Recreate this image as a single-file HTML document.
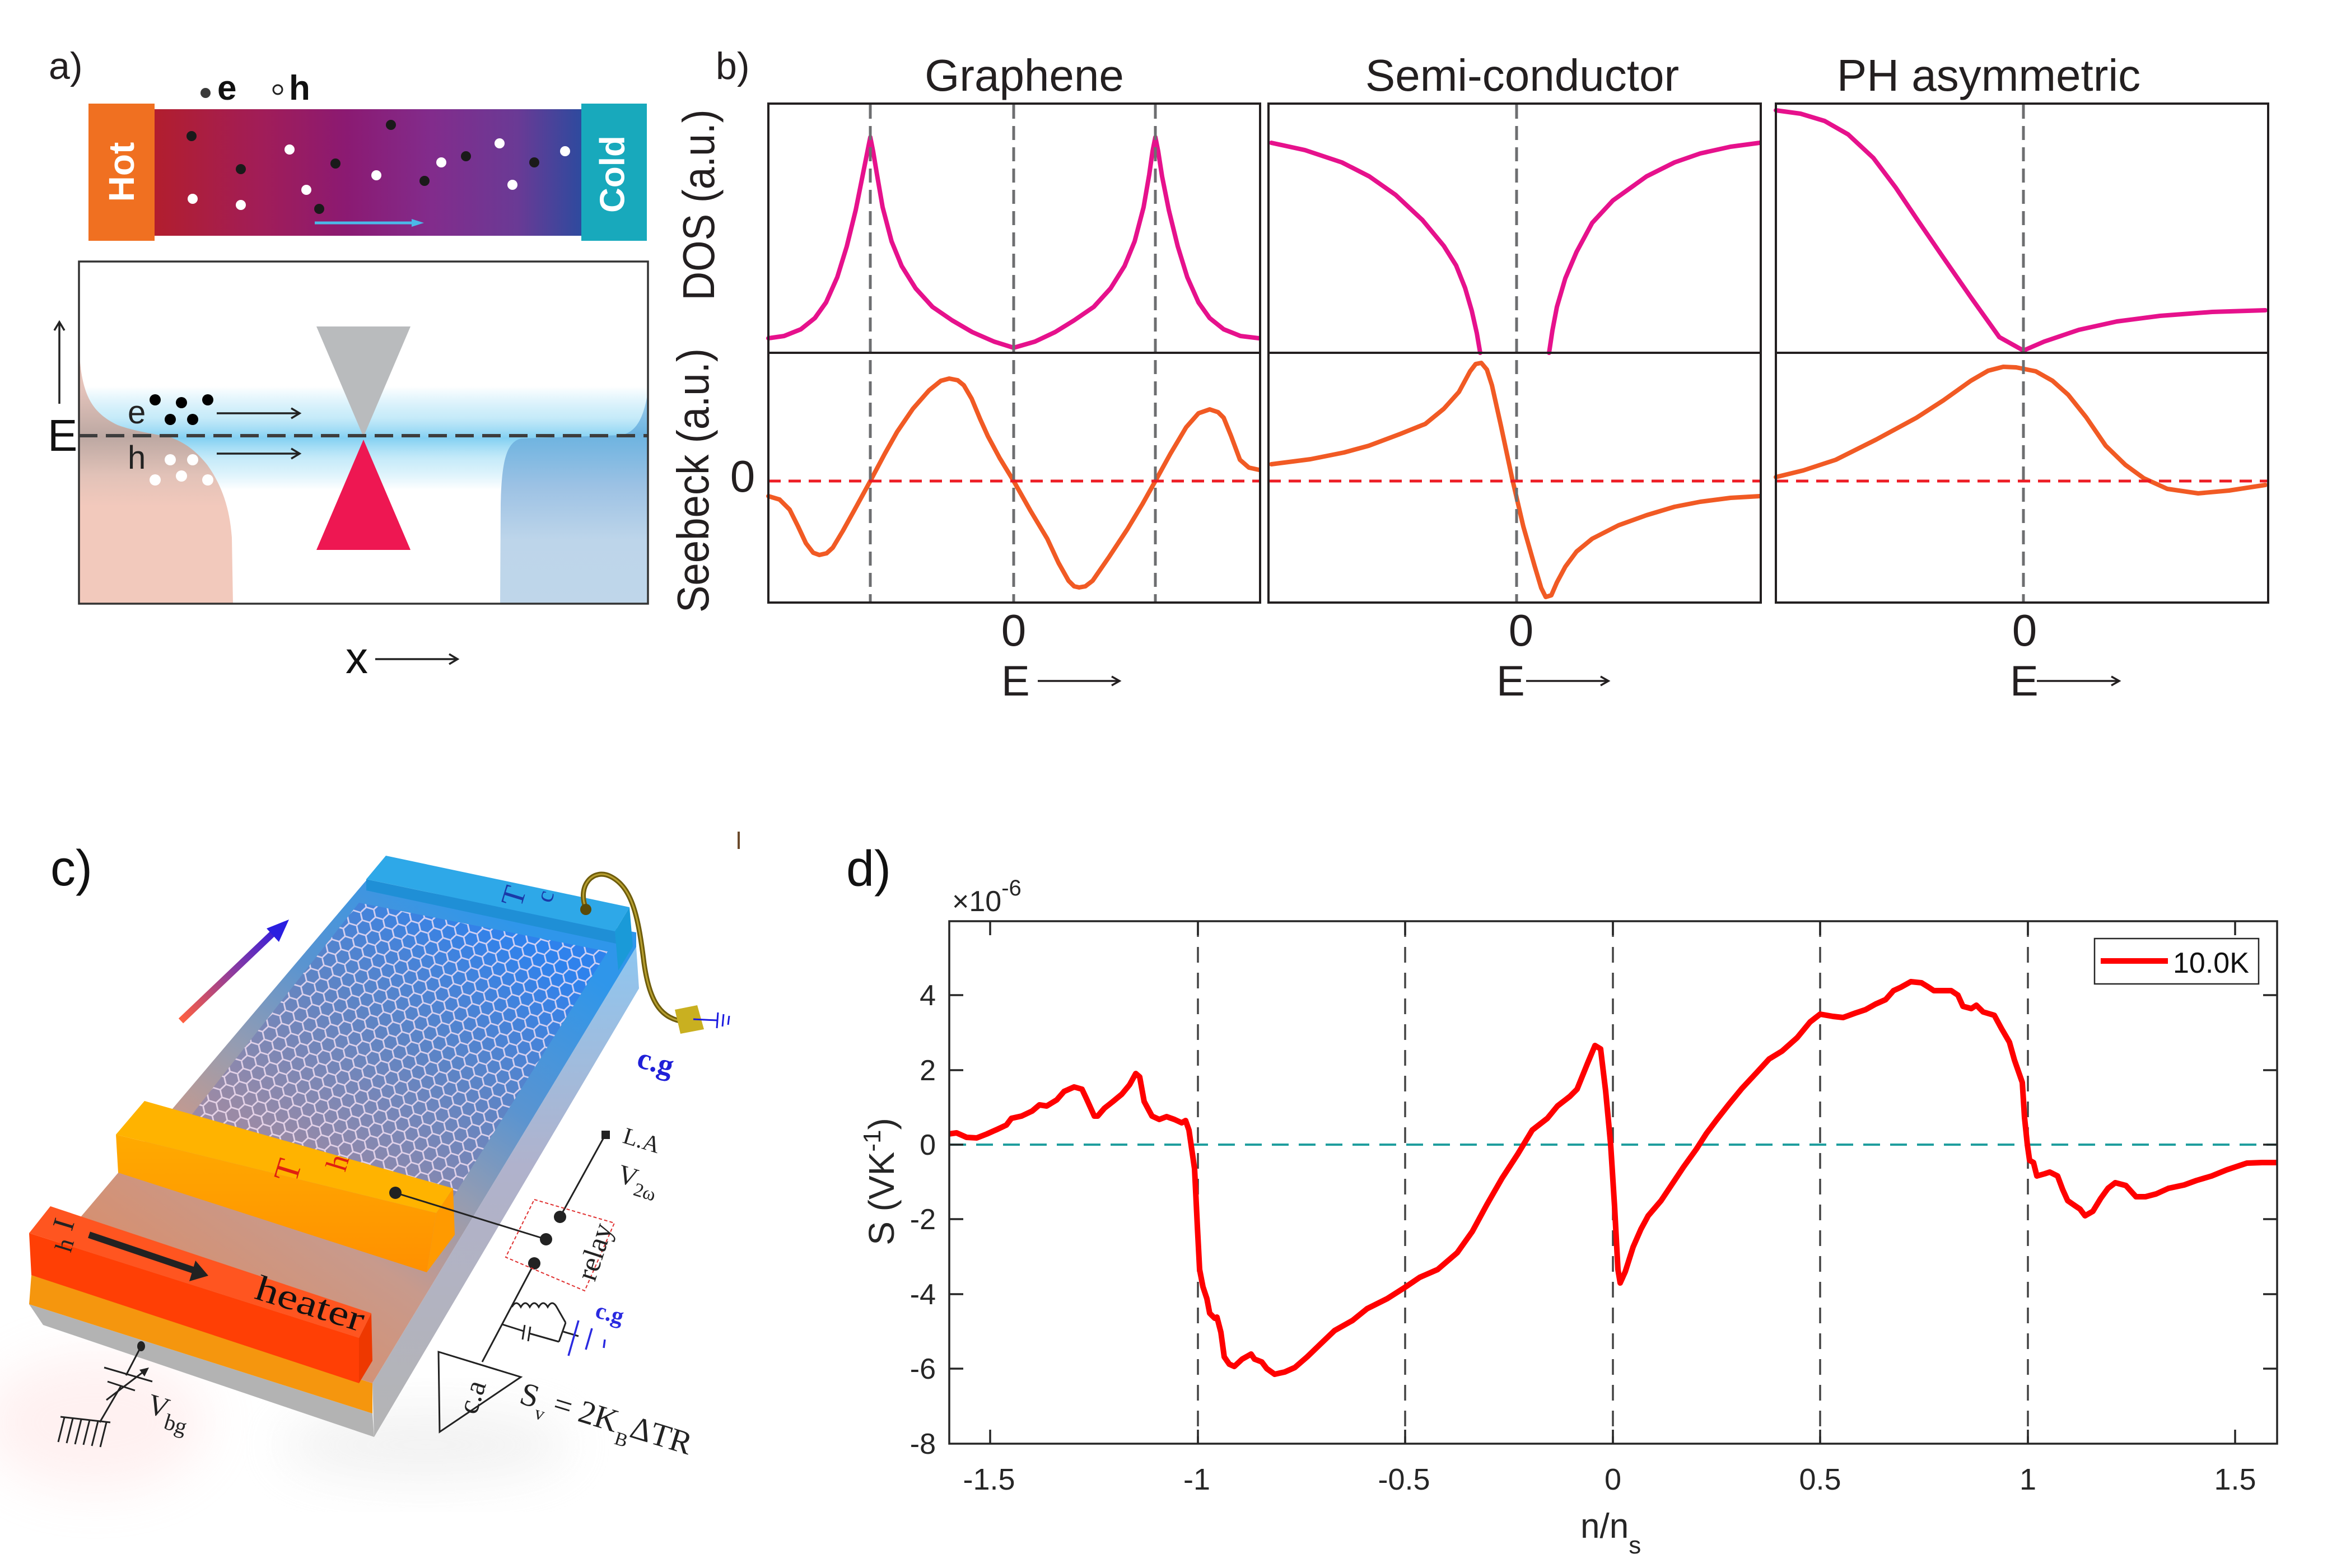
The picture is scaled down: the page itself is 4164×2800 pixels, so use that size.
<!DOCTYPE html>
<html><head><meta charset="utf-8"><style>html,body{margin:0;padding:0;background:#fff}svg{display:block}</style></head>
<body>
<svg xmlns="http://www.w3.org/2000/svg" width="4164" height="2800" viewBox="0 0 4164 2800" font-family="'Liberation Sans', Arial, sans-serif" fill="#231f20">
<defs>
<linearGradient id="barG" x1="0" y1="0" x2="1" y2="0">
 <stop offset="0" stop-color="#b21e2e"/>
 <stop offset="0.25" stop-color="#a11d58"/>
 <stop offset="0.45" stop-color="#8b1a72"/>
 <stop offset="0.65" stop-color="#822c8c"/>
 <stop offset="0.85" stop-color="#6a3a95"/>
 <stop offset="1" stop-color="#2e4a9e"/>
</linearGradient>
<linearGradient id="bandG" gradientUnits="userSpaceOnUse" x1="0" y1="690" x2="0" y2="875">
 <stop offset="0" stop-color="#8fd8f4" stop-opacity="0"/>
 <stop offset="0.3" stop-color="#a8e0f6" stop-opacity="0.65"/>
 <stop offset="0.5" stop-color="#84d0f2" stop-opacity="1"/>
 <stop offset="0.7" stop-color="#a8e0f6" stop-opacity="0.65"/>
 <stop offset="1" stop-color="#8fd8f4" stop-opacity="0"/>
</linearGradient>
<linearGradient id="pinkG" gradientUnits="userSpaceOnUse" x1="0" y1="620" x2="0" y2="1078">
 <stop offset="0" stop-color="#f2c8bc"/>
 <stop offset="0.17" stop-color="#e2c2ba"/>
 <stop offset="0.35" stop-color="#bca8a2"/>
 <stop offset="0.5" stop-color="#e2c2b8"/>
 <stop offset="0.62" stop-color="#f2c9bc"/>
 <stop offset="1" stop-color="#f2c9bc"/>
</linearGradient>
<linearGradient id="blueRG" gradientUnits="userSpaceOnUse" x1="0" y1="700" x2="0" y2="1078">
 <stop offset="0" stop-color="#a6d2f0"/>
 <stop offset="0.2" stop-color="#6cb3e0"/>
 <stop offset="0.45" stop-color="#9dc2e4"/>
 <stop offset="0.7" stop-color="#bdd5ea"/>
 <stop offset="1" stop-color="#bfd6ea"/>
</linearGradient>
<linearGradient id="topG" gradientUnits="userSpaceOnUse" x1="880" y1="1620" x2="360" y2="2380">
 <stop offset="0" stop-color="#2f96ea"/>
 <stop offset="0.3" stop-color="#5a94d0"/>
 <stop offset="0.5" stop-color="#949cb2"/>
 <stop offset="0.7" stop-color="#c89a8c"/>
 <stop offset="1" stop-color="#d88e6c"/>
</linearGradient>
<linearGradient id="grG" gradientUnits="userSpaceOnUse" x1="880" y1="1640" x2="560" y2="2090">
 <stop offset="0" stop-color="#2f82ec"/>
 <stop offset="0.5" stop-color="#5f84c4"/>
 <stop offset="1" stop-color="#9a8aa6"/>
</linearGradient>
<linearGradient id="sideG" gradientUnits="userSpaceOnUse" x1="0" y1="1690" x2="0" y2="2566">
 <stop offset="0" stop-color="#8ec6f0"/>
 <stop offset="0.45" stop-color="#b0b2cc"/>
 <stop offset="1" stop-color="#b4b4b4"/>
</linearGradient>
<linearGradient id="arrG" gradientUnits="userSpaceOnUse" x1="323" y1="1823" x2="512" y2="1643">
 <stop offset="0" stop-color="#ff6040"/>
 <stop offset="0.5" stop-color="#8a3aa0"/>
 <stop offset="1" stop-color="#2418e8"/>
</linearGradient>
<linearGradient id="thG" gradientUnits="userSpaceOnUse" x1="0" y1="2026" x2="0" y2="2272">
 <stop offset="0" stop-color="#ffaa00"/>
 <stop offset="1" stop-color="#ff9000"/>
</linearGradient>
<pattern id="hex" width="42" height="24.25" patternUnits="userSpaceOnUse" patternTransform="rotate(17)">
 <path d="M0,12.12 L7,0 L21,0 L28,12.12 L21,24.25 L7,24.25 Z M28,12.12 L42,12.12" fill="none" stroke="#f8e4f6" stroke-width="2.8" stroke-opacity="0.8"/>
</pattern>
<filter id="blur" x="-50%" y="-50%" width="200%" height="200%"><feGaussianBlur stdDeviation="45"/></filter>
<clipPath id="clipA"><rect x="141" y="467" width="1016" height="611"/></clipPath>
<clipPath id="clipGr"><polygon points="641,1612 1085,1699 809,2138 327,2010"/></clipPath>
<clipPath id="clipD"><rect x="1695" y="1645" width="2371" height="933"/></clipPath>
</defs>

<!-- ================= PANEL A ================= -->
<text x="87" y="141" font-size="68">a)</text>
<circle cx="367" cy="166" r="9" fill="#3a3a3a"/>
<text x="388" y="178" font-size="62" font-weight="bold" fill="#111">e</text>
<circle cx="496" cy="160" r="8" fill="none" stroke="#222" stroke-width="3"/>
<text x="516" y="178" font-size="62" font-weight="bold" fill="#111">h</text>

<rect x="158" y="185" width="118" height="245" fill="#f07021"/>
<rect x="276" y="195" width="762" height="226" fill="url(#barG)"/>
<rect x="1038" y="185" width="117" height="245" fill="#18a9bc"/>
<text transform="translate(217,307) rotate(-90)" text-anchor="middle" dominant-baseline="central" font-weight="bold" font-size="64" fill="#fff">Hot</text>
<text transform="translate(1094,311) rotate(-90)" text-anchor="middle" dominant-baseline="central" font-weight="bold" font-size="62" fill="#fff">Cold</text>
<g fill="#1a1a1a">
 <circle cx="342" cy="243" r="9"/><circle cx="430" cy="302" r="9"/><circle cx="599" cy="292" r="9"/><circle cx="698" cy="223" r="9"/>
 <circle cx="758" cy="323" r="9"/><circle cx="832" cy="279" r="9"/><circle cx="954" cy="290" r="9"/><circle cx="570" cy="373" r="9"/>
</g>
<g fill="#fff">
 <circle cx="344" cy="355" r="9"/><circle cx="430" cy="366" r="9"/><circle cx="517" cy="267" r="9"/><circle cx="547" cy="339" r="9"/>
 <circle cx="672" cy="313" r="9"/><circle cx="788" cy="290" r="9"/><circle cx="892" cy="256" r="9"/><circle cx="915" cy="330" r="9"/><circle cx="1009" cy="270" r="9"/>
</g>
<line x1="562" y1="398" x2="740" y2="398" stroke="#4bb8e8" stroke-width="5"/>
<polygon points="757,398 735,391 735,405" fill="#4bb8e8"/>

<g clip-path="url(#clipA)">
 <rect x="141" y="690" width="1016" height="185" fill="url(#bandG)"/>
 <path d="M141,1078 L141,620 C145,700 160,735 210,759 C240,770 275,775 302,780 C330,790 350,805 370,830 C395,865 410,905 414,960 L416,1078 Z" fill="url(#pinkG)"/>
 <path d="M893,1078 L894,900 C896,820 905,790 930,783 L1110,777 C1140,770 1150,740 1157,700 L1157,1078 Z" fill="url(#blueRG)"/>
 <polygon points="565,583 733,583 649,780" fill="#b9bbbd"/>
 <polygon points="649,785 733,982 565,982" fill="#ee1752"/>
 <line x1="141" y1="778" x2="1157" y2="778" stroke="#3d3d3d" stroke-width="6" stroke-dasharray="33 15"/>
</g>
<text x="228" y="756" font-size="58" fill="#222">e</text>
<text x="228" y="837" font-size="58" fill="#222">h</text>
<g fill="#000">
 <circle cx="277" cy="714" r="10"/><circle cx="324" cy="719" r="10"/><circle cx="371" cy="714" r="10"/><circle cx="304" cy="749" r="10"/><circle cx="344" cy="749" r="10"/>
</g>
<g fill="#fff">
 <circle cx="304" cy="821" r="10"/><circle cx="344" cy="821" r="10"/><circle cx="277" cy="857" r="10"/><circle cx="324" cy="850" r="10"/><circle cx="371" cy="857" r="10"/>
</g>
<g stroke="#222" stroke-width="3.5" fill="none">
 <line x1="387" y1="738" x2="533" y2="738"/><path d="M520,729 L535,738 L520,747"/>
 <line x1="387" y1="810" x2="533" y2="810"/><path d="M520,801 L535,810 L520,819"/>
</g>
<rect x="141" y="467" width="1016" height="611" fill="none" stroke="#333" stroke-width="3.5"/>
<text x="85" y="805" font-size="80" fill="#111">E</text>
<g stroke="#222" stroke-width="3.5" fill="none">
 <line x1="106" y1="721" x2="106" y2="577"/><path d="M97,590 L106,575 L115,590"/>
 <line x1="670" y1="1177" x2="815" y2="1177"/><path d="M802,1168 L817,1177 L802,1186"/>
</g>
<text x="617" y="1202" font-size="80" fill="#111">x</text>

<!-- ================= PANEL B ================= -->
<text x="1278" y="141" font-size="68">b)</text>
<text x="1829" y="162" font-size="80" text-anchor="middle">Graphene</text>
<text x="2718" y="162" font-size="80" text-anchor="middle">Semi-conductor</text>
<text x="3551" y="162" font-size="80" text-anchor="middle">PH asymmetric</text>
<text transform="translate(1275,366) rotate(-90)" text-anchor="middle" font-size="80" textLength="341" lengthAdjust="spacingAndGlyphs">DOS (a.u.)</text>
<text transform="translate(1265,858) rotate(-90)" text-anchor="middle" font-size="80" textLength="472" lengthAdjust="spacingAndGlyphs">Seebeck (a.u.)</text>
<text x="1326" y="878" font-size="80" text-anchor="middle">0</text>

<g fill="none" stroke-width="8" stroke-linejoin="round" stroke-linecap="round">
 <polyline stroke="#e6118c" points="1372,604 1400,600 1430,588 1455,568 1475,540 1495,495 1512,440 1528,375 1540,315 1549,270 1554,245 1559,270 1566,312 1576,370 1592,431 1610,475 1635,515 1665,548 1700,572 1736,593 1775,610 1810,621 1848,610 1884,593 1918,572 1953,548 1983,515 2008,475 2026,431 2042,370 2052,312 2058,270 2063,245 2068,270 2075,315 2087,375 2103,440 2120,495 2140,540 2160,568 2185,588 2215,600 2248,604"/>
 <polyline stroke="#f15a24" points="1372,886 1392,892 1410,910 1425,940 1439,970 1452,987 1463,991 1476,988 1487,978 1505,948 1525,912 1554,859 1580,810 1602,771 1630,730 1659,697 1680,680 1695,676 1710,679 1721,688 1735,712 1750,748 1764,779 1785,818 1810,859 1840,912 1870,962 1890,1005 1908,1037 1918,1047 1927,1049 1938,1047 1951,1037 1980,995 2013,945 2040,900 2063,859 2090,810 2118,763 2140,738 2160,731 2175,736 2185,746 2198,778 2214,821 2230,835 2248,839"/>
 <polyline stroke="#e6118c" points="2270,255 2330,268 2396,290 2445,315 2492,348 2540,393 2578,439 2600,474 2616,514 2628,555 2637,595 2643,630"/>
 <polyline stroke="#e6118c" points="2766,630 2772,590 2780,548 2795,497 2815,450 2843,398 2880,358 2940,315 2990,290 3036,274 3090,262 3142,255"/>
 <polyline stroke="#f15a24" points="2270,829 2340,820 2400,808 2444,796 2500,775 2545,757 2578,730 2605,700 2625,663 2635,650 2645,648 2655,660 2664,688 2680,760 2700,854 2720,940 2740,1010 2752,1050 2760,1066 2770,1063 2780,1040 2795,1012 2815,985 2843,962 2890,938 2940,920 2990,905 3036,896 3090,889 3142,886"/>
 <polyline stroke="#e6118c" points="3171,197 3215,203 3258,216 3300,240 3345,282 3385,335 3422,390 3470,460 3520,532 3570,602 3613,626 3650,610 3712,589 3780,574 3857,564 3950,557 4045,554"/>
 <polyline stroke="#f15a24" points="3171,852 3220,840 3278,821 3350,785 3422,746 3470,715 3519,680 3550,662 3577,655 3600,656 3635,663 3665,680 3693,705 3725,745 3760,796 3795,830 3828,854 3870,873 3925,881 3980,876 4045,866"/>
</g>
<g stroke="#6d6e70" stroke-width="5" stroke-dasharray="25 13">
 <line x1="1554" y1="187" x2="1554" y2="1074"/>
 <line x1="1810" y1="187" x2="1810" y2="1074"/>
 <line x1="2063" y1="187" x2="2063" y2="1074"/>
 <line x1="2708" y1="187" x2="2708" y2="1074"/>
 <line x1="3613" y1="187" x2="3613" y2="1074"/>
</g>
<g stroke="#ed1c24" stroke-width="5" stroke-dasharray="22 14">
 <line x1="1372" y1="859" x2="2250" y2="859"/>
 <line x1="2265" y1="859" x2="3144" y2="859"/>
 <line x1="3171" y1="859" x2="4050" y2="859"/>
</g>
<g fill="none" stroke="#231f20" stroke-width="4">
 <rect x="1372" y="185" width="878" height="891"/>
 <line x1="1372" y1="630" x2="2250" y2="630"/>
 <rect x="2265" y="185" width="879" height="891"/>
 <line x1="2265" y1="630" x2="3144" y2="630"/>
 <rect x="3171" y="185" width="879" height="891"/>
 <line x1="3171" y1="630" x2="4050" y2="630"/>
</g>
<text x="1810" y="1153" font-size="80" text-anchor="middle">0</text>
<text x="2716" y="1153" font-size="80" text-anchor="middle">0</text>
<text x="3615" y="1153" font-size="80" text-anchor="middle">0</text>
<text x="1788" y="1242" font-size="76">E</text>
<text x="2672" y="1242" font-size="76">E</text>
<text x="3589" y="1242" font-size="76">E</text>
<g stroke="#231f20" stroke-width="3.5" fill="none">
 <line x1="1853" y1="1216" x2="1997" y2="1216"/><path d="M1985,1208 L1999,1216 L1985,1224"/>
 <line x1="2725" y1="1216" x2="2870" y2="1216"/><path d="M2858,1208 L2872,1216 L2858,1224"/>
 <line x1="3637" y1="1216" x2="3782" y2="1216"/><path d="M3770,1208 L3784,1216 L3770,1224"/>
</g>

<!-- ================= PANEL C ================= -->
<text x="90" y="1581" font-size="90" fill="#111">c)</text>
<line x1="1319" y1="1485" x2="1319" y2="1516" stroke="#6b4a2b" stroke-width="4"/>
<ellipse cx="170" cy="2540" rx="200" ry="120" fill="#ffd0d0" opacity="0.3" filter="url(#blur)"/>
<ellipse cx="760" cy="2580" rx="260" ry="60" fill="#e0e0e0" opacity="0.45" filter="url(#blur)"/>
<!-- side face -->
<polygon points="1136,1691 1141,1765 668,2566 665,2470" fill="url(#sideG)"/>
<!-- front strips -->
<polygon points="52,2329 665,2524 668,2566 77,2366" fill="#b3b3b3"/>
<polygon points="56,2277 665,2470 665,2524 52,2329" fill="#f5960e"/>
<!-- top face -->
<polygon points="654,1572 1136,1665 1136,1691 665,2470 56,2277" fill="url(#topG)"/>
<!-- graphene -->
<polygon points="641,1612 1085,1699 809,2138 327,2010" fill="url(#grG)"/>
<rect x="300" y="1580" width="820" height="580" fill="url(#hex)" clip-path="url(#clipGr)"/>
<!-- Tc electrode -->
<polygon points="654,1570 1098,1663 1100,1685 654,1590" fill="#1f8fd6"/>
<polygon points="1098,1663 1124,1620 1130,1690 1104,1733" fill="#1a9ad8"/>
<polygon points="689,1528 1124,1620 1098,1663 654,1570" fill="#2ea8e8"/>
<!-- Th bar -->
<polygon points="207,2026 779,2166 762,2272 211,2094" fill="url(#thG)"/>
<polygon points="809,2122 812,2205 762,2272 779,2166" fill="#ff9a00"/>
<polygon points="258,1966 809,2122 779,2166 207,2026" fill="#ffb300"/>
<!-- heater -->
<polygon points="52,2202 641,2389 641,2470 56,2277" fill="#ff3f05"/>
<polygon points="663,2345 665,2430 641,2470 641,2389" fill="#ee3800"/>
<polygon points="90,2154 663,2345 641,2389 52,2202" fill="#ff5520"/>
<!-- gradient arrow -->
<line x1="323" y1="1823" x2="490" y2="1664" stroke="url(#arrG)" stroke-width="12"/>
<polygon points="516,1642 498,1682 476,1658" fill="#2a1ee0"/>
<!-- wire -->
<path d="M1046,1622 C1030,1580 1060,1550 1090,1565 C1130,1585 1140,1640 1150,1720 C1160,1790 1180,1820 1225,1825" fill="none" stroke="#6e5c0c" stroke-width="9"/>
<path d="M1046,1622 C1030,1580 1060,1550 1090,1565 C1130,1585 1140,1640 1150,1720 C1160,1790 1180,1820 1225,1825" fill="none" stroke="#b8a030" stroke-width="3"/>
<circle cx="1046" cy="1624" r="10" fill="#5a4a08"/>
<polygon points="1205,1803 1245,1795 1257,1838 1215,1846" fill="#c9b020"/>
<g stroke="#1a1ae0" stroke-width="3">
 <line x1="1238" y1="1820" x2="1280" y2="1822"/>
 <line x1="1282" y1="1808" x2="1280" y2="1836"/><line x1="1292" y1="1811" x2="1290" y2="1833"/><line x1="1302" y1="1814" x2="1300" y2="1830"/>
</g>
<text transform="translate(1135,1905) rotate(15)" font-family="'Liberation Serif', serif" font-weight="bold" font-size="54" fill="#1f1fd8">c.g</text>
<!-- labels on device -->
<text transform="translate(930,1622) rotate(-73)" font-family="'Liberation Serif', serif" font-size="56" fill="#1a3aa8">T</text>
<text transform="translate(984,1614) rotate(-73)" font-family="'Liberation Serif', serif" font-size="44" fill="#1a3aa8">c</text>
<text transform="translate(528,2114) rotate(-73)" font-family="'Liberation Serif', serif" font-size="62" fill="#e02010">T</text>
<text transform="translate(616,2094) rotate(-73)" font-family="'Liberation Serif', serif" font-size="54" fill="#e02010">h</text>
<text transform="translate(128,2200) rotate(-73)" font-family="'Liberation Serif', serif" font-size="54" fill="#222">I</text>
<text transform="translate(126,2238) rotate(-73)" font-family="'Liberation Serif', serif" font-size="44" fill="#222">h</text>
<line x1="159" y1="2205" x2="345" y2="2268" stroke="#222" stroke-width="12"/>
<polygon points="372,2278 338,2288 349,2251" fill="#222"/>
<text transform="translate(452,2318) rotate(17.5)" font-family="'Liberation Serif', serif" font-size="64" fill="#111" textLength="200" lengthAdjust="spacingAndGlyphs">heater</text>
<!-- circuit -->
<g stroke="#222" stroke-width="3" fill="none">
 <line x1="706" y1="2130" x2="975" y2="2213"/>
 <line x1="1081" y1="2026" x2="1000" y2="2173"/>
 <line x1="954" y1="2256" x2="861" y2="2432"/>
 <path d="M914,2334 q8,-14 16,0 q8,-14 16,0 q8,-14 16,0 q8,-14 16,0 q8,-14 16,0 L1010,2362"/>
 <line x1="897" y1="2365" x2="935" y2="2377"/>
 <line x1="937" y1="2366" x2="933" y2="2392"/><line x1="947" y1="2369" x2="943" y2="2395"/>
 <line x1="945" y1="2381" x2="998" y2="2396"/>
 <line x1="1010" y1="2362" x2="998" y2="2396"/>
 <line x1="1006" y1="2378" x2="1033" y2="2386"/>
 <polygon points="783,2414 930,2459 785,2557"/>
 <line x1="252" y1="2404" x2="225" y2="2456"/>
 <line x1="186" y1="2442" x2="272" y2="2467"/><line x1="192" y1="2467" x2="241" y2="2483"/>
 <line x1="216" y1="2475" x2="178" y2="2540"/>
 <line x1="190" y1="2500" x2="262" y2="2445"/>
 <line x1="108" y1="2530" x2="197" y2="2540"/>
 <line x1="115" y1="2531" x2="104" y2="2575"/><line x1="130" y1="2533" x2="119" y2="2577"/><line x1="145" y1="2535" x2="134" y2="2579"/>
 <line x1="160" y1="2536" x2="149" y2="2580"/><line x1="175" y1="2538" x2="164" y2="2582"/><line x1="190" y1="2540" x2="179" y2="2584"/>
</g>
<polygon points="266,2442 249,2446 258,2458" fill="#222"/>
<g stroke="#2a2ae0" stroke-width="3.5">
 <line x1="1033" y1="2358" x2="1015" y2="2421"/><line x1="1057" y1="2372" x2="1046" y2="2410"/><line x1="1080" y1="2392" x2="1078" y2="2407"/>
</g>
<g fill="#222">
 <circle cx="706" cy="2130" r="11"/><circle cx="1000" cy="2173" r="11"/><circle cx="975" cy="2213" r="11"/><circle cx="954" cy="2256" r="11"/>
 <rect x="1074" y="2019" width="15" height="15"/>
 <ellipse cx="252" cy="2404" rx="7" ry="9"/>
</g>
<polygon points="954,2142 1097,2184 1044,2305 903,2245" fill="none" stroke="#e03030" stroke-width="2" stroke-dasharray="6 4"/>
<text transform="translate(1110,2040) rotate(17)" font-family="'Liberation Serif', serif" font-size="42" fill="#222">L.A</text>
<text transform="translate(1100,2110) rotate(17)" font-family="'Liberation Serif', serif" font-size="48" fill="#222">V<tspan font-size="34" dy="14">2ω</tspan></text>
<text transform="translate(1062,2290) rotate(-72)" font-family="'Liberation Serif', serif" font-size="52" fill="#222">relay</text>
<text transform="translate(1061,2352) rotate(15)" font-family="'Liberation Serif', serif" font-weight="bold" font-size="42" fill="#2a2ae0">c.g</text>
<text transform="translate(850,2528) rotate(-72)" font-family="'Liberation Serif', serif" font-size="52" fill="#222">c.a</text>
<g transform="translate(925,2505) rotate(17)" font-family="'Liberation Serif', serif" fill="#222">
 <text x="0" y="0" font-size="58">S</text>
 <text x="34" y="18" font-size="34">v</text>
 <text x="62" y="0" font-size="58">= 2K</text>
 <text x="184" y="20" font-size="34">B</text>
 <text x="206" y="0" font-size="58">ΔTR</text>
</g>
<text transform="translate(260,2522) rotate(17)" font-family="'Liberation Serif', serif" font-size="52" fill="#222">V<tspan font-size="40" dy="18">bg</tspan></text>

<!-- ================= PANEL D ================= -->
<text x="1511" y="1582" font-size="90" fill="#111">d)</text>
<text x="1700" y="1627" font-size="52" fill="#262626">×10<tspan font-size="40" dy="-28">-6</tspan></text>
<g stroke="#444" stroke-width="3.5" stroke-dasharray="28 18">
 <line x1="2139" y1="1645" x2="2139" y2="2578"/>
 <line x1="2509" y1="1645" x2="2509" y2="2578"/>
 <line x1="2880" y1="1645" x2="2880" y2="2578"/>
 <line x1="3250" y1="1645" x2="3250" y2="2578"/>
 <line x1="3621" y1="1645" x2="3621" y2="2578"/>
</g>
<line x1="1695" y1="2044" x2="4066" y2="2044" stroke="#1f9e9e" stroke-width="4" stroke-dasharray="30 18"/>
<g clip-path="url(#clipD)">
<polyline fill="none" stroke="#ff0000" stroke-width="10" stroke-linejoin="round" stroke-linecap="round" points="1694,2025 1708,2023 1726,2031 1744,2032 1762,2025 1780,2017 1797,2009 1806,1997 1824,1993 1843,1984 1856,1973 1869,1975 1887,1964 1900,1949 1918,1941 1932,1945 1940,1962 1954,1993 1960,1993 1972,1979 1986,1968 2003,1954 2017,1937 2028,1917 2035,1923 2043,1967 2057,1993 2070,1999 2083,1994 2097,1999 2110,2005 2117,2001 2123,2018 2133,2087 2138,2190 2142,2267 2148,2298 2155,2319 2160,2345 2169,2354 2173,2352 2180,2379 2186,2423 2195,2436 2204,2440 2218,2427 2234,2418 2240,2427 2253,2432 2262,2444 2276,2454 2294,2450 2312,2442 2334,2423 2361,2397 2383,2376 2415,2358 2441,2337 2477,2319 2510,2298 2535,2281 2567,2267 2602,2237 2629,2199 2655,2151 2682,2104 2710,2061 2736,2018 2763,1997 2781,1975 2803,1958 2816,1945 2835,1898 2848,1867 2858,1873 2867,1948 2876,2044 2883,2155 2889,2267 2893,2291 2902,2271 2916,2227 2930,2195 2943,2171 2966,2144 2984,2117 3006,2084 3029,2052 3047,2024 3065,2000 3087,1972 3110,1944 3137,1915 3159,1891 3182,1877 3209,1853 3232,1825 3250,1811 3273,1815 3291,1817 3313,1809 3331,1803 3349,1793 3367,1785 3381,1769 3394,1763 3412,1753 3431,1755 3444,1763 3453,1769 3471,1769 3484,1769 3496,1777 3505,1797 3520,1801 3529,1795 3541,1807 3561,1813 3574,1837 3588,1861 3597,1893 3604,1913 3611,1933 3615,1996 3620,2044 3624,2072 3631,2076 3637,2100 3651,2096 3660,2093 3674,2100 3683,2124 3692,2144 3705,2153 3714,2159 3723,2171 3737,2163 3751,2140 3764,2122 3777,2112 3796,2117 3814,2137 3831,2137 3850,2132 3872,2122 3900,2116 3922,2108 3949,2100 3976,2089 4012,2077 4039,2076 4066,2076"/>
</g>
<g stroke="#262626" stroke-width="3.5" fill="none">
 <rect x="1695" y="1645" width="2371" height="933"/>
 <line x1="1768" y1="2578" x2="1768" y2="2553"/><line x1="2139" y1="2578" x2="2139" y2="2553"/><line x1="2509" y1="2578" x2="2509" y2="2553"/>
 <line x1="2880" y1="2578" x2="2880" y2="2553"/><line x1="3250" y1="2578" x2="3250" y2="2553"/><line x1="3621" y1="2578" x2="3621" y2="2553"/><line x1="3991" y1="2578" x2="3991" y2="2553"/>
 <line x1="1768" y1="1645" x2="1768" y2="1670"/><line x1="2139" y1="1645" x2="2139" y2="1670"/><line x1="2509" y1="1645" x2="2509" y2="1670"/>
 <line x1="2880" y1="1645" x2="2880" y2="1670"/><line x1="3250" y1="1645" x2="3250" y2="1670"/><line x1="3621" y1="1645" x2="3621" y2="1670"/><line x1="3991" y1="1645" x2="3991" y2="1670"/>
 <line x1="1695" y1="1777" x2="1720" y2="1777"/><line x1="1695" y1="1911" x2="1720" y2="1911"/><line x1="1695" y1="2044" x2="1720" y2="2044"/>
 <line x1="1695" y1="2177" x2="1720" y2="2177"/><line x1="1695" y1="2311" x2="1720" y2="2311"/><line x1="1695" y1="2444" x2="1720" y2="2444"/>
 <line x1="4066" y1="1777" x2="4041" y2="1777"/><line x1="4066" y1="1911" x2="4041" y2="1911"/><line x1="4066" y1="2044" x2="4041" y2="2044"/>
 <line x1="4066" y1="2177" x2="4041" y2="2177"/><line x1="4066" y1="2311" x2="4041" y2="2311"/><line x1="4066" y1="2444" x2="4041" y2="2444"/>
</g>
<g font-size="52" fill="#262626" text-anchor="end">
 <text x="1671" y="1795">4</text><text x="1671" y="1929">2</text><text x="1671" y="2062">0</text>
 <text x="1671" y="2195">-2</text><text x="1671" y="2329">-4</text><text x="1671" y="2462">-6</text><text x="1671" y="2596">-8</text>
</g>
<g font-size="54" fill="#262626" text-anchor="middle">
 <text x="1766" y="2660">-1.5</text><text x="2137" y="2660">-1</text><text x="2507" y="2660">-0.5</text>
 <text x="2880" y="2660">0</text><text x="3250" y="2660">0.5</text><text x="3621" y="2660">1</text><text x="3991" y="2660">1.5</text>
</g>
<text transform="translate(1596,2110) rotate(-90)" text-anchor="middle" font-size="64" fill="#262626">S (VK<tspan font-size="44" dy="-24">-1</tspan><tspan dy="24">)</tspan></text>
<text x="2822" y="2746" font-size="62" fill="#262626">n/n<tspan font-size="44" dy="28">s</tspan></text>
<rect x="3740" y="1676" width="293" height="81" fill="#fff" stroke="#262626" stroke-width="2.5"/>
<line x1="3751" y1="1716" x2="3871" y2="1716" stroke="#ff0000" stroke-width="10"/>
<text x="3880" y="1737" font-size="52" fill="#111">10.0K</text>
</svg>
</body></html>
